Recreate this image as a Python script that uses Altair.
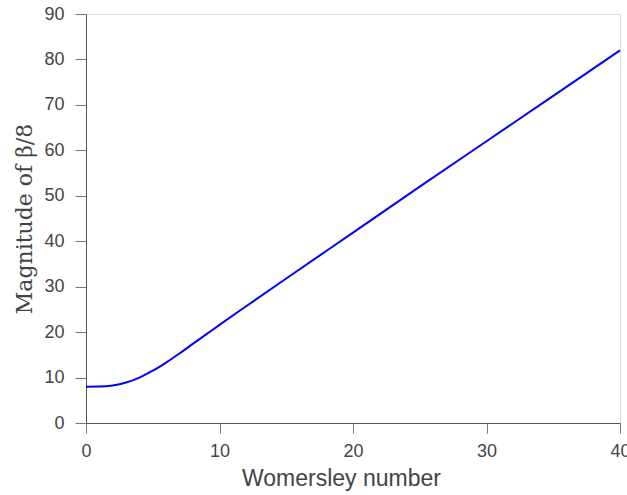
import altair as alt
import pandas as pd

womersley = [0, 1, 2, 3, 4, 5, 6, 7, 8, 9, 10, 12, 15, 20, 25, 30, 35, 40]
magnitude = [8.0, 8.02, 8.25, 8.9, 10.0, 11.5, 13.3, 15.3, 17.4, 19.5, 21.6, 25.7, 31.8, 41.9, 52.0, 62.0, 72.0, 82.0]

df = pd.DataFrame({"w": womersley, "m": magnitude})

chart = alt.Chart(df).mark_line(color="#0000ff", strokeWidth=2, interpolate="monotone").encode(
    x=alt.X("w:Q", scale=alt.Scale(domain=[0, 40], nice=False, zero=False),
            axis=alt.Axis(title="Womersley number", values=[0, 10, 20, 30, 40], grid=False,
                          tickSize=10, labelPadding=9, titlePadding=7, titleX=255,
                          labelFontSize=18, titleFontSize=23, titleFontWeight="normal",
                          labelFont="Liberation Sans", titleFont="Liberation Sans",
                          labelColor="#444444", titleColor="#444444",
                          domainColor="#555555", tickColor="#777777", labelFlush=False)),
    y=alt.Y("m:Q", scale=alt.Scale(domain=[0, 90], nice=False),
            axis=alt.Axis(title="Magnitude of β/8", values=list(range(0, 91, 10)), grid=False,
                          tickSize=11, labelPadding=11, titlePadding=7,
                          labelFontSize=18, titleFontSize=22, titleFontWeight="normal",
                          labelFont="Liberation Sans", titleFont="DejaVu Serif",
                          labelColor="#444444", titleColor="#444444",
                          domainColor="#555555", tickColor="#777777")),
).properties(
    width=534, height=409,
    autosize=alt.AutoSizeParams(type="none"),
    padding={"left": 86, "top": 14, "right": 7, "bottom": 72},
).configure_view(stroke=None).configure(background="white")

chart.save("out.html", embed_options={"renderer": "svg", "actions": False})
